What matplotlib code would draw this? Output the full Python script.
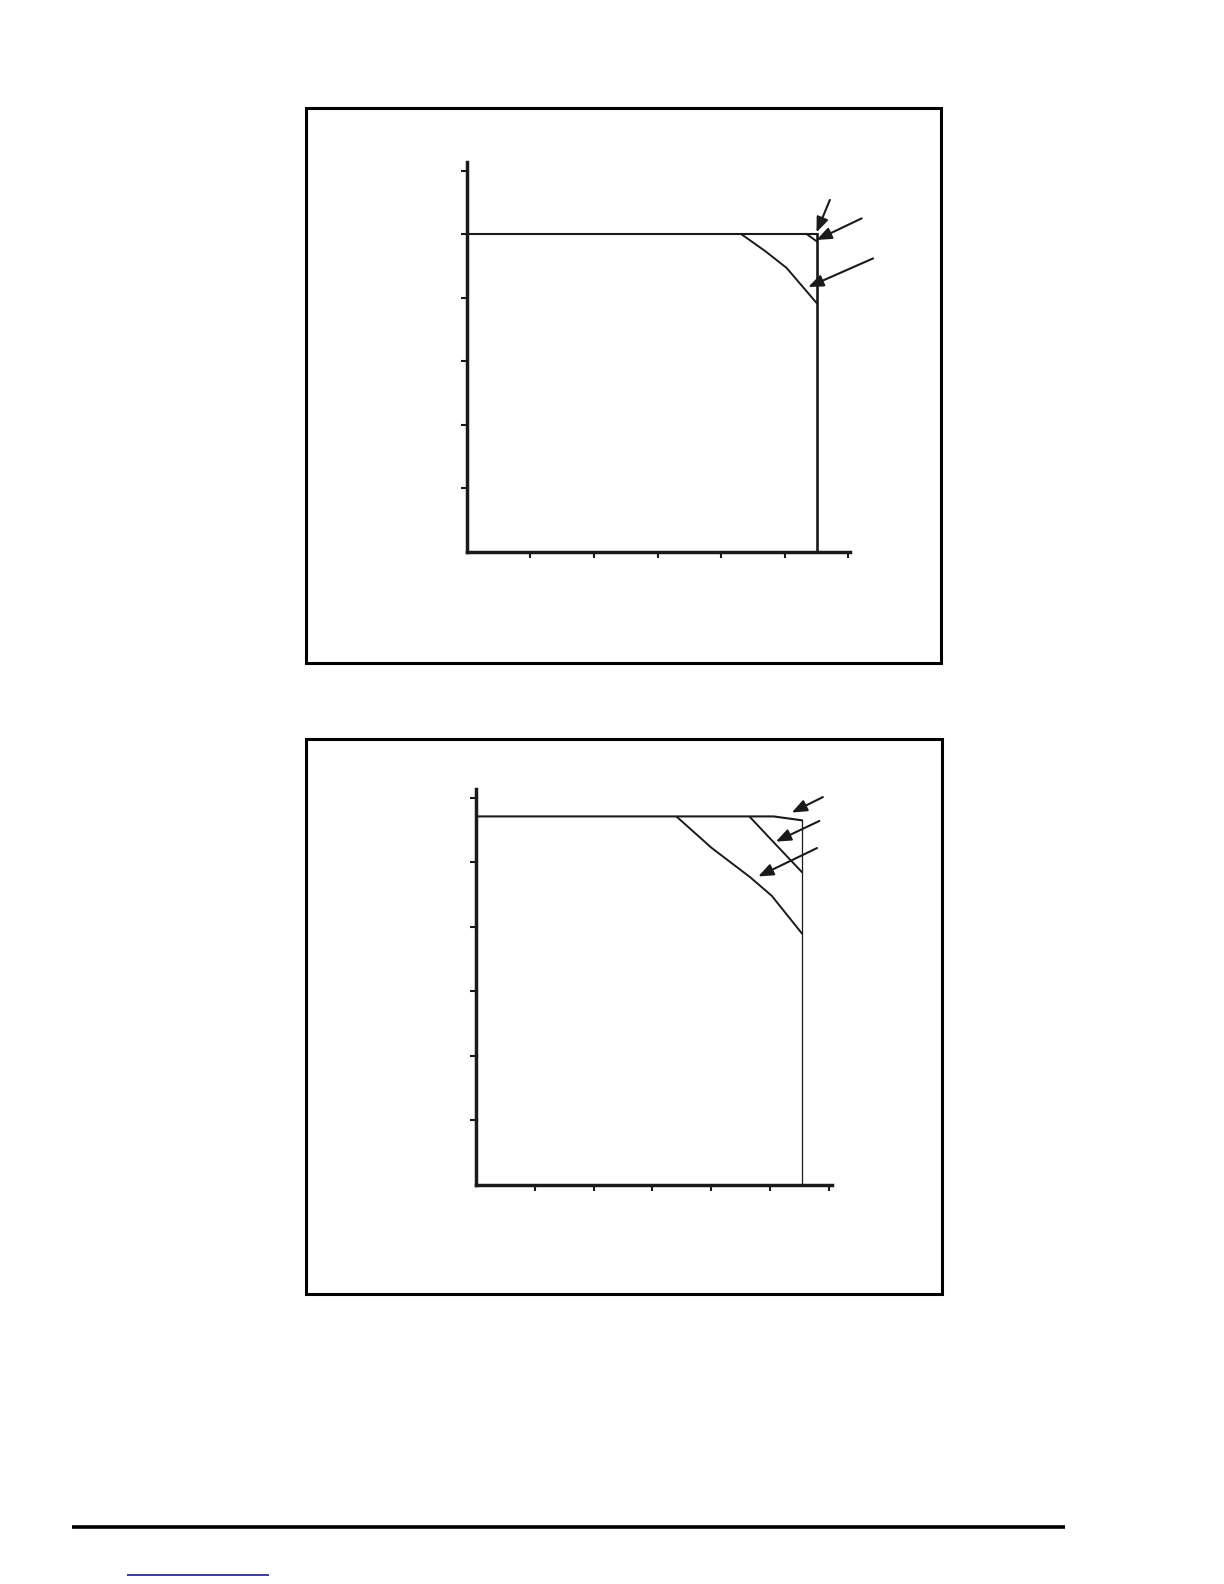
import matplotlib
matplotlib.use('Agg')
import matplotlib.pyplot as plt
from matplotlib.patches import Rectangle

# =========================
# Data (axis units 0..6)
# =========================
# top chart
top_limit_x = [0, 5.5, 5.5]
top_limit_y = [5.0, 5.0, 0]
top_curve1_x = [5.35, 5.5]
top_curve1_y = [5.0, 4.89]
top_curve2_x = [4.32, 4.7, 5.03, 5.5]
top_curve2_y = [5.0, 4.73, 4.47, 3.92]
top_arrow_tail = [(5.71, 5.54), (6.21, 5.25), (6.39, 4.62)]
top_arrow_tip = [(5.50, 5.03), (5.50, 4.91), (5.37, 4.17)]

# bottom chart
bot_limit_x = [0, 5.06, 5.54]
bot_limit_y = [5.71, 5.71, 5.65]
bot_edge_x = [5.54, 5.54]
bot_edge_y = [5.65, 0]
bot_curve1_x = [4.66, 5.03, 5.54]
bot_curve1_y = [5.70, 5.34, 4.85]
bot_curve2_x = [3.42, 4.01, 4.66, 5.03, 5.54]
bot_curve2_y = [5.70, 5.22, 4.77, 4.48, 3.90]
bot_arrow_tail = [(5.90, 6.01), (5.84, 5.64), (5.80, 5.22)]
bot_arrow_tip = [(5.37, 5.77), (5.10, 5.32), (4.80, 4.78)]

ticks = [1, 2, 3, 4, 5, 6]

W, H = 1224, 1584
fig = plt.figure(figsize=(W / 100, H / 100), dpi=100)

# =========================
# Page decoration (pixel coords)
# =========================
page = fig.add_axes([0, 0, 1, 1])
page.set_xlim(0, W)
page.set_ylim(H, 0)
page.axis('off')
page.add_patch(Rectangle((306, 108.3), 635, 555, fill=False, lw=2.2, ec='black'))
page.add_patch(Rectangle((306, 739.3), 635.7, 554.7, fill=False, lw=2.2, ec='black'))
page.plot([72, 1065], [1527, 1527], color='black', lw=2.6, solid_capstyle='butt')
page.plot([126.7, 269], [1574.7, 1574.7], color='#1c1c8a', lw=1.2, solid_capstyle='butt')


def make_axes(x0, y0, px_x, px_y, xmax, ymax):
    left = x0 / W
    bottom = (H - y0) / H
    width = xmax * px_x / W
    height = ymax * px_y / H
    ax = fig.add_axes([left, bottom, width, height])
    ax.set_xlim(0, xmax)
    ax.set_ylim(0, ymax)
    ax.patch.set_alpha(0)
    for s in ['top', 'right']:
        ax.spines[s].set_visible(False)
    for s in ['left', 'bottom']:
        ax.spines[s].set_linewidth(2.5)
        ax.spines[s].set_color('#1a1a1a')
        ax.spines[s].set_capstyle('projecting')
    ax.set_xticks(ticks)
    ax.set_yticks(ticks)
    ax.tick_params(direction='out', length=4.3, width=1.5, color='#1a1a1a',
                   labelbottom=False, labelleft=False)
    return ax


def arrows(ax, tails, tips):
    for t, h in zip(tails, tips):
        ax.annotate('', xy=h, xytext=t, annotation_clip=False,
                    arrowprops=dict(arrowstyle='-|>,head_length=0.75,head_width=0.3',
                                    mutation_scale=12, lw=1.5, color='#1a1a1a',
                                    shrinkA=0, shrinkB=0))


# =========================
# Top chart
# =========================
ax1 = make_axes(466.7, 552, 63.6, 63.55, 6.03, 6.13)
ax1.plot(top_limit_x[:2], top_limit_y[:2], color='#1a1a1a', lw=1.5)
ax1.plot(top_limit_x[1:], top_limit_y[1:], color='#1a1a1a', lw=1.9)
ax1.plot(top_curve1_x, top_curve1_y, color='#1a1a1a', lw=1.4)
ax1.plot(top_curve2_x, top_curve2_y, color='#1a1a1a', lw=1.4)
arrows(ax1, top_arrow_tail, top_arrow_tip)

# =========================
# Bottom chart
# =========================
ax2 = make_axes(476, 1185, 58.8, 64.55, 6.05, 6.13)
ax2.plot(bot_limit_x, bot_limit_y, color='#1a1a1a', lw=1.5)
ax2.plot(bot_edge_x, bot_edge_y, color='#1a1a1a', lw=0.9)
ax2.plot(bot_curve1_x, bot_curve1_y, color='#1a1a1a', lw=1.4)
ax2.plot(bot_curve2_x, bot_curve2_y, color='#1a1a1a', lw=1.4)
arrows(ax2, bot_arrow_tail, bot_arrow_tip)

fig.savefig('out.png', dpi=100, facecolor='white')
